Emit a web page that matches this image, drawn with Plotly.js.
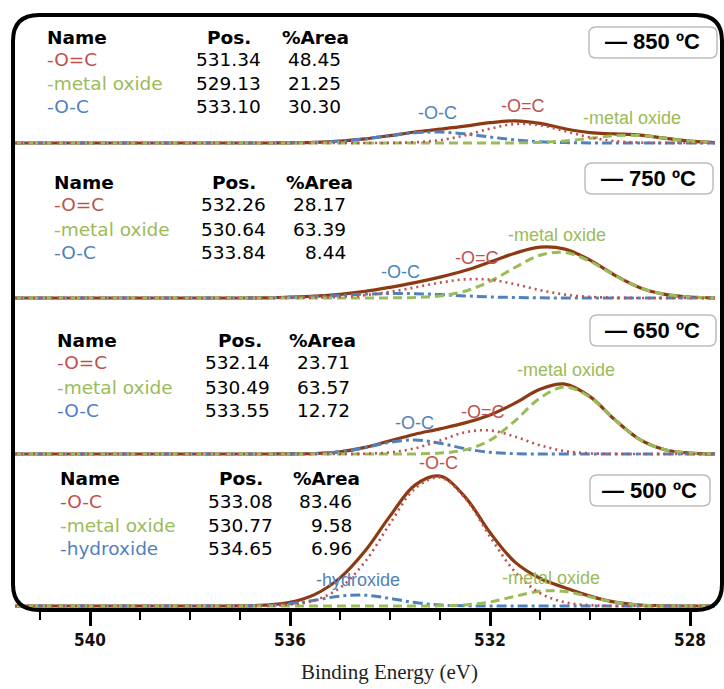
<!DOCTYPE html>
<html>
<head>
<meta charset="utf-8">
<script src="https://cdn.plot.ly/plotly-3.0.1.min.js"></script>
<style>
  html, body { margin: 0; padding: 0; background: #ffffff; }
  #chart { width: 724px; height: 689px; }
</style>
</head>
<body>
<div id="chart"></div>
<script>
// Binding energy grid (eV), from high to low
const energy = [541.5, 541, 540.5, 540, 539.5, 539, 538.5, 538, 537.5, 537, 536.5, 536, 535.5, 535,
                534.5, 534, 533.5, 533, 532.5, 532, 531.5, 531, 530.5, 530, 529.5, 529, 528.5, 528, 527.5];

// O 1s fitted components, intensity (a.u.) on the grid above
// 850 ºC
const c850_OdC  = [0,0,0,0,0,0,0,0,0,0,0,0,0,0,0, 0.1,0.8,2.9,7.6,14.3,19.0,17.8,11.8,5.6,1.9,0.4,0.1,0,0];
const c850_MO   = [0,0,0,0,0,0,0,0,0,0,0,0,0,0,0,0,0,0,0,0, 0.1,0.6,2.1,4.7,7.3,7.5,4.7,1.8,0.4];
const c850_OC   = [0,0,0,0,0,0,0,0,0,0,0, 0.2,0.6,1.8,4.1,7.3,10.2,10.9,9.2,6.0,3.1,1.2,0.4,0.1, 0,0,0,0,0];
// 750 ºC
const c750_OdC  = [0,0,0,0,0,0,0,0,0,0,0, 0.1,0.4,1.1,2.8,6.1,10.6,15.4,18.6,18.3,13.8,7.9,3.4,1.1,0.3, 0,0,0,0];
const c750_MO   = [0,0,0,0,0,0,0,0,0,0,0,0,0,0,0, 0.1,0.5,2.1,6.8,16.6,30.5,42.8,45.5,36.7,22.4,10.3,3.6,1.0,0.2];
const c750_OC   = [0,0,0,0,0,0,0,0,0,0, 0.2,0.7,1.4,2.6,3.8,4.5,4.3,3.4,2.1,1.1,0.5,0.2, 0,0,0,0,0,0,0];
// 650 ºC
const c650_OdC  = [0,0,0,0,0,0,0,0,0,0,0,0,0,0, 0.3,1.6,5.7,13.5,21.7,23.6,17.4,8.7,2.9,0.7,0.1, 0,0,0,0];
const c650_MO   = [0,0,0,0,0,0,0,0,0,0,0,0,0,0,0,0, 0.1,0.9,4.1,13.8,33.1,56.0,67.0,56.7,34.0,14.4,4.3,0.9,0.1];
const c650_OC   = [0,0,0,0,0,0,0,0,0,0,0, 0.1,0.5,2.2,6.3,11.7,14.0,10.7,5.3,1.7,0.3, 0,0,0,0,0,0,0,0];
// 500 ºC
const c500_OC   = [0,0,0,0,0,0,0,0,0,0, 0.3,1.4,5.8,18.2,44.2,82.3,117.5,128.6,107.9,69.4,34.2,12.9,3.7,0.8,0.1, 0,0,0,0];
const c500_MO   = [0,0,0,0,0,0,0,0,0,0,0,0,0,0,0,0,0, 0.2,1.1,4.0,9.7,14.8,14.5,9.1,3.7,1.0,0.2,0,0];
const c500_OH   = [0,0,0,0,0,0,0,0,0, 0.1,0.5,2.2,5.8,9.9,10.8,7.6,3.4,1.0,0.2, 0,0,0,0,0,0,0,0,0,0];

// Legend labels and fit tables
const temps     = ['850 ºC', '750 ºC', '650 ºC', '500 ºC'];
const names850  = ['-O=C', '-metal oxide', '-O-C'];
const pos850    = [531.34, 529.13, 533.10];
const area850   = [48.45, 21.25, 30.30];
const names750  = ['-O=C', '-metal oxide', '-O-C'];
const pos750    = [532.26, 530.64, 533.84];
const area750   = [28.17, 63.39, 8.44];
const names650  = ['-O=C', '-metal oxide', '-O-C'];
const pos650    = [532.14, 530.49, 533.55];
const area650   = [23.71, 63.57, 12.72];
const names500  = ['-O-C', '-metal oxide', '-hydroxide'];
const pos500    = [533.08, 530.77, 534.65];
const area500   = [83.46, 9.58, 6.96];
const xTicks    = [540, 536, 532, 528];

// ---- styling ----
const RED = '#C0504D', GREEN = '#9BBB59', BLUE = '#4F81BD', BROWN = '#8B3A12';
const styles = [
  { color: RED,   dash: '2px,4px',            width: 2.6 },  // first table row
  { color: GREEN, dash: '9px,5px',            width: 3.0 },  // second row
  { color: BLUE,  dash: '10px,4px,3px,4px',   width: 3.0 }   // third row
];

// plot-area geometry (pixels)
const PA = { l: 13, t: 15, w: 710, h: 595 };
const xp = px => (px - PA.l) / PA.w;
const yp = py => (PA.t + PA.h - py) / PA.h;

function roundRect(x0, y0, x1, y1, r) {
  const X = v => xp(v).toFixed(5), Y = v => yp(v).toFixed(5);
  return `M${X(x0 + r)},${Y(y0)} L${X(x1 - r)},${Y(y0)} Q${X(x1)},${Y(y0)} ${X(x1)},${Y(y0 + r)} ` +
         `L${X(x1)},${Y(y1 - r)} Q${X(x1)},${Y(y1)} ${X(x1 - r)},${Y(y1)} ` +
         `L${X(x0 + r)},${Y(y1)} Q${X(x0)},${Y(y1)} ${X(x0)},${Y(y1 - r)} ` +
         `L${X(x0)},${Y(y0 + r)} Q${X(x0)},${Y(y0)} ${X(x0 + r)},${Y(y0)} Z`;
}

// per-panel placement: vertical offset of the spectrum, table and label positions (px)
const panels = [
  { comps: [c850_OdC, c850_MO, c850_OC], names: names850, pos: pos850, area: area850, temp: temps[0],
    base: 467, nameX: 45, posR: 263, areaR: 343, posH: 229, areaH: 315, rows: [38, 60, 83, 106],
    box: [589, 27, 717, 58], boxText: [652, 42],
    peakLbl: [[523, 106], [632, 118], [437, 113]] },
  { comps: [c750_OdC, c750_MO, c750_OC], names: names750, pos: pos750, area: area750, temp: temps[1],
    base: 312, nameX: 52, posR: 268, areaR: 348, posH: 234, areaH: 319, rows: [182, 205, 229, 252],
    box: [585, 163, 713, 194], boxText: [648, 178],
    peakLbl: [[477, 258], [557, 235], [400, 272]] },
  { comps: [c650_OdC, c650_MO, c650_OC], names: names650, pos: pos650, area: area650, temp: temps[2],
    base: 156, nameX: 55, posR: 272, areaR: 352, posH: 240, areaH: 322, rows: [340, 363, 387, 410],
    box: [590, 315, 716, 346], boxText: [652, 330],
    peakLbl: [[483, 412], [566, 370], [414, 423]] },
  { comps: [c500_OC, c500_MO, c500_OH], names: names500, pos: pos500, area: area500, temp: temps[3],
    base: 4, nameX: 58, posR: 275, areaR: 354, posH: 241, areaH: 326, rows: [478, 501, 525, 548],
    box: [590, 475, 710, 506], boxText: [649, 490],
    peakLbl: [[438, 463], [551, 578], [358, 580]] }
];

const traces = [];
const annotations = [];
const shapes = [];

const TABLE_FONT = 'DejaVu Sans';
const LABEL_FONT = 'Liberation Sans, Arial, sans-serif';

panels.forEach(p => {
  // fit envelope = sum of the components
  const envelope = energy.map((_, i) => p.comps[0][i] + p.comps[1][i] + p.comps[2][i]);
  traces.push({
    x: energy, y: envelope.map(v => v + p.base), type: 'scatter', mode: 'lines',
    line: { color: BROWN, width: 3.2, shape: 'spline', smoothing: 1 }, hoverinfo: 'skip'
  });
  // components: blue, green, then red dotted on top
  [2, 1, 0].forEach(k => {
    traces.push({
      x: energy, y: p.comps[k].map(v => v + p.base), type: 'scatter', mode: 'lines',
      line: { color: styles[k].color, width: styles[k].width, dash: styles[k].dash, shape: 'spline', smoothing: 1 },
      hoverinfo: 'skip'
    });
  });

  // table header
  const hdr = (text, x, anchor) => annotations.push({
    xref: 'paper', yref: 'paper', x: xp(x), y: yp(p.rows[0]), xanchor: anchor, yanchor: 'middle',
    text: text, showarrow: false, font: { family: TABLE_FONT, size: 18.5, color: '#000', weight: 'bold' }
  });
  hdr('Name', p.nameX, 'left');
  hdr('Pos.', p.posH, 'center');
  hdr('%Area', p.areaH, 'center');

  // table rows
  for (let r = 0; r < 3; r++) {
    const y = yp(p.rows[r + 1]);
    annotations.push({ xref: 'paper', yref: 'paper', x: xp(p.nameX), y: y, xanchor: 'left', yanchor: 'middle',
      text: p.names[r], showarrow: false, font: { family: TABLE_FONT, size: 18.5, color: styles[r].color } });
    annotations.push({ xref: 'paper', yref: 'paper', x: xp(p.posR), y: y, xanchor: 'right', yanchor: 'middle',
      text: p.pos[r].toFixed(2), showarrow: false, font: { family: TABLE_FONT, size: 18.5, color: '#000' } });
    annotations.push({ xref: 'paper', yref: 'paper', x: xp(p.areaR), y: y, xanchor: 'right', yanchor: 'middle',
      text: p.area[r].toFixed(2), showarrow: false, font: { family: TABLE_FONT, size: 18.5, color: '#000' } });
    // peak label beside the curve
    annotations.push({ xref: 'paper', yref: 'paper', x: xp(p.peakLbl[r][0]), y: yp(p.peakLbl[r][1]),
      xanchor: 'center', yanchor: 'middle', text: p.names[r], showarrow: false,
      font: { family: LABEL_FONT, size: 18, color: styles[r].color } });
  }

  // legend box
  shapes.push({ type: 'path', xref: 'paper', yref: 'paper', layer: 'above',
    path: roundRect(p.box[0], p.box[1], p.box[2], p.box[3], 7),
    line: { color: '#bdbdbd', width: 1.5 }, fillcolor: 'rgba(255,255,255,1)' });
  annotations.push({ xref: 'paper', yref: 'paper', x: xp(p.boxText[0]), y: yp(p.boxText[1]),
    xanchor: 'center', yanchor: 'middle', text: '— ' + p.temp, showarrow: false,
    font: { family: 'Liberation Sans, Arial, sans-serif', size: 22, color: '#000', weight: 'bold' } });
});

// outer rounded frame
shapes.push({ type: 'path', xref: 'paper', yref: 'paper', layer: 'above',
  path: roundRect(13, 15, 722, 610, 26), line: { color: '#000', width: 4 } });

// axis title
annotations.push({ xref: 'paper', yref: 'paper', x: xp(390), y: yp(672), xanchor: 'center', yanchor: 'middle',
  text: 'Binding Energy (eV)', showarrow: false,
  font: { family: 'Liberation Serif, Times New Roman, serif', size: 21, color: '#222' } });

const layout = {
  width: 724, height: 689,
  margin: { l: PA.l, r: 724 - PA.l - PA.w, t: PA.t, b: 689 - PA.t - PA.h, pad: 0 },
  paper_bgcolor: '#ffffff', plot_bgcolor: '#ffffff',
  showlegend: false,
  xaxis: {
    range: [541.54, 527.34], tickmode: 'array', tickvals: xTicks, ticktext: xTicks.map(String),
    ticks: 'outside', ticklen: 15, tickwidth: 3, tickcolor: '#000',
    minor: { dtick: 1, tick0: 528, ticks: 'outside', ticklen: 9, tickwidth: 2.5, tickcolor: '#000', showgrid: false },
    showgrid: false, zeroline: false, showline: false,
    tickfont: { family: 'DejaVu Sans Condensed, Liberation Sans, sans-serif', size: 17, color: '#111', weight: 'bold' },
    fixedrange: true
  },
  yaxis: { range: [0, 595], visible: false, fixedrange: true },
  shapes: shapes,
  annotations: annotations
};

Plotly.newPlot('chart', traces, layout, { displayModeBar: false, staticPlot: true });
</script>
</body>
</html>
